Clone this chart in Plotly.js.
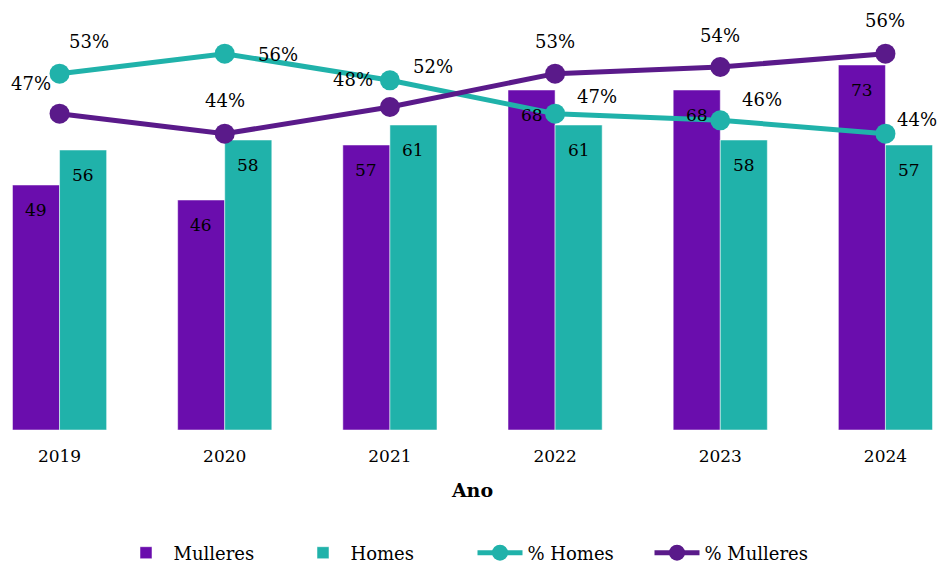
<!DOCTYPE html>
<html>
<head>
<meta charset="utf-8">
<script src="https://cdn.plot.ly/plotly-3.0.1.min.js"></script>
<style>html,body{margin:0;padding:0;background:#fff}#chart{width:945px;height:565px}</style>
</head>
<body>
<div id="chart"></div>
<script>
const years = ["2019", "2020", "2021", "2022", "2023", "2024"];
const mulleres = [49, 46, 57, 68, 68, 73];
const homes = [56, 58, 61, 61, 58, 57];
const pctHomes = [0.53, 0.56, 0.52, 0.47, 0.46, 0.44];
const pctMulleres = [0.47, 0.44, 0.48, 0.53, 0.54, 0.56];

const FONT = "DejaVu Serif";
const cPurple = "#6a0dad";
const cTeal = "#20b2aa";
const cPurpleLine = "#5a1a8a";

// label offsets in px (styling only)
const homesShift = [[29, 32], [53, -1], [43, 14], [42, 17], [42, 21], [32, 14]];
const mullShift = [[-29, 30], [0, 33], [-37, 28], [0, 32], [0, 32], [0, 33]];
const barLabelDrop = -25;
const barHalf = 0.142; // half of a bar width, in category units

const traces = [
  {type: "bar", name: "Mulleres", x: years, y: mulleres, marker: {color: cPurple, line: {color: "rgba(255,255,255,0.5)", width: 1}}, hoverinfo: "skip"},
  {type: "bar", name: "Homes", x: years, y: homes, marker: {color: cTeal, line: {color: "rgba(255,255,255,0.5)", width: 1}}, hoverinfo: "skip"},
  {type: "scatter", mode: "lines+markers", name: "% Homes", x: years, y: pctHomes, yaxis: "y2",
   line: {color: cTeal, width: 5}, marker: {color: cTeal, size: 20}},
  {type: "scatter", mode: "lines+markers", name: "% Mulleres", x: years, y: pctMulleres, yaxis: "y2",
   line: {color: cPurpleLine, width: 5}, marker: {color: cPurpleLine, size: 20}}
];

const fmt = v => Math.round(v * 100) + "%";
const labFont = {family: FONT, size: 18, color: "#000"};
const annotations = [];
years.forEach((yr, i) => {
  annotations.push({x: i - barHalf, y: mulleres[i], xref: "x", yref: "y", text: String(mulleres[i]), showarrow: false,
    yshift: barLabelDrop, font: {family: FONT, size: 17, color: "#000"}});
  annotations.push({x: i + barHalf, y: homes[i], xref: "x", yref: "y", text: String(homes[i]), showarrow: false,
    yshift: barLabelDrop, font: {family: FONT, size: 17, color: "#000"}});
  annotations.push({x: i, y: pctHomes[i], xref: "x", yref: "y2", text: fmt(pctHomes[i]), showarrow: false,
    xshift: homesShift[i][0], yshift: homesShift[i][1], font: labFont});
  annotations.push({x: i, y: pctMulleres[i], xref: "x", yref: "y2", text: fmt(pctMulleres[i]), showarrow: false,
    xshift: mullShift[i][0], yshift: mullShift[i][1], font: labFont});
});

const layout = {
  width: 945, height: 565,
  margin: {l: 10, r: 10, t: 30, b: 135, autoexpand: false},
  paper_bgcolor: "#fff", plot_bgcolor: "#fff",
  font: {family: FONT, size: 17, color: "#000"},
  barmode: "group", bargap: 0.43, bargroupgap: 0,
  showlegend: true,
  legend: {orientation: "h", x: 0.5, xanchor: "center", y: -0.3075, yanchor: "middle",
    font: {family: FONT, size: 18, color: "#000"}, itemwidth: 45, entrywidth: 117, entrywidthmode: "pixels"},
  xaxis: {type: "category", range: [-0.3, 5.3], showgrid: false, zeroline: false, showline: false, ticks: "", automargin: false,
    ticklabelstandoff: 14,
    tickfont: {family: FONT, size: 17, color: "#000"},
    title: {text: "<b>Ano</b>", font: {family: FONT, size: 19, color: "#000"}, standoff: 18}},
  yaxis: {range: [0, 80], showgrid: false, zeroline: false, showticklabels: false, showline: false, automargin: false},
  yaxis2: {range: [-0.0045, 0.5955], overlaying: "y", side: "right", showgrid: false, zeroline: false, showticklabels: false, showline: false, automargin: false},
  annotations: annotations
};

Plotly.newPlot("chart", traces, layout, {displayModeBar: false});
</script>
</body>
</html>
